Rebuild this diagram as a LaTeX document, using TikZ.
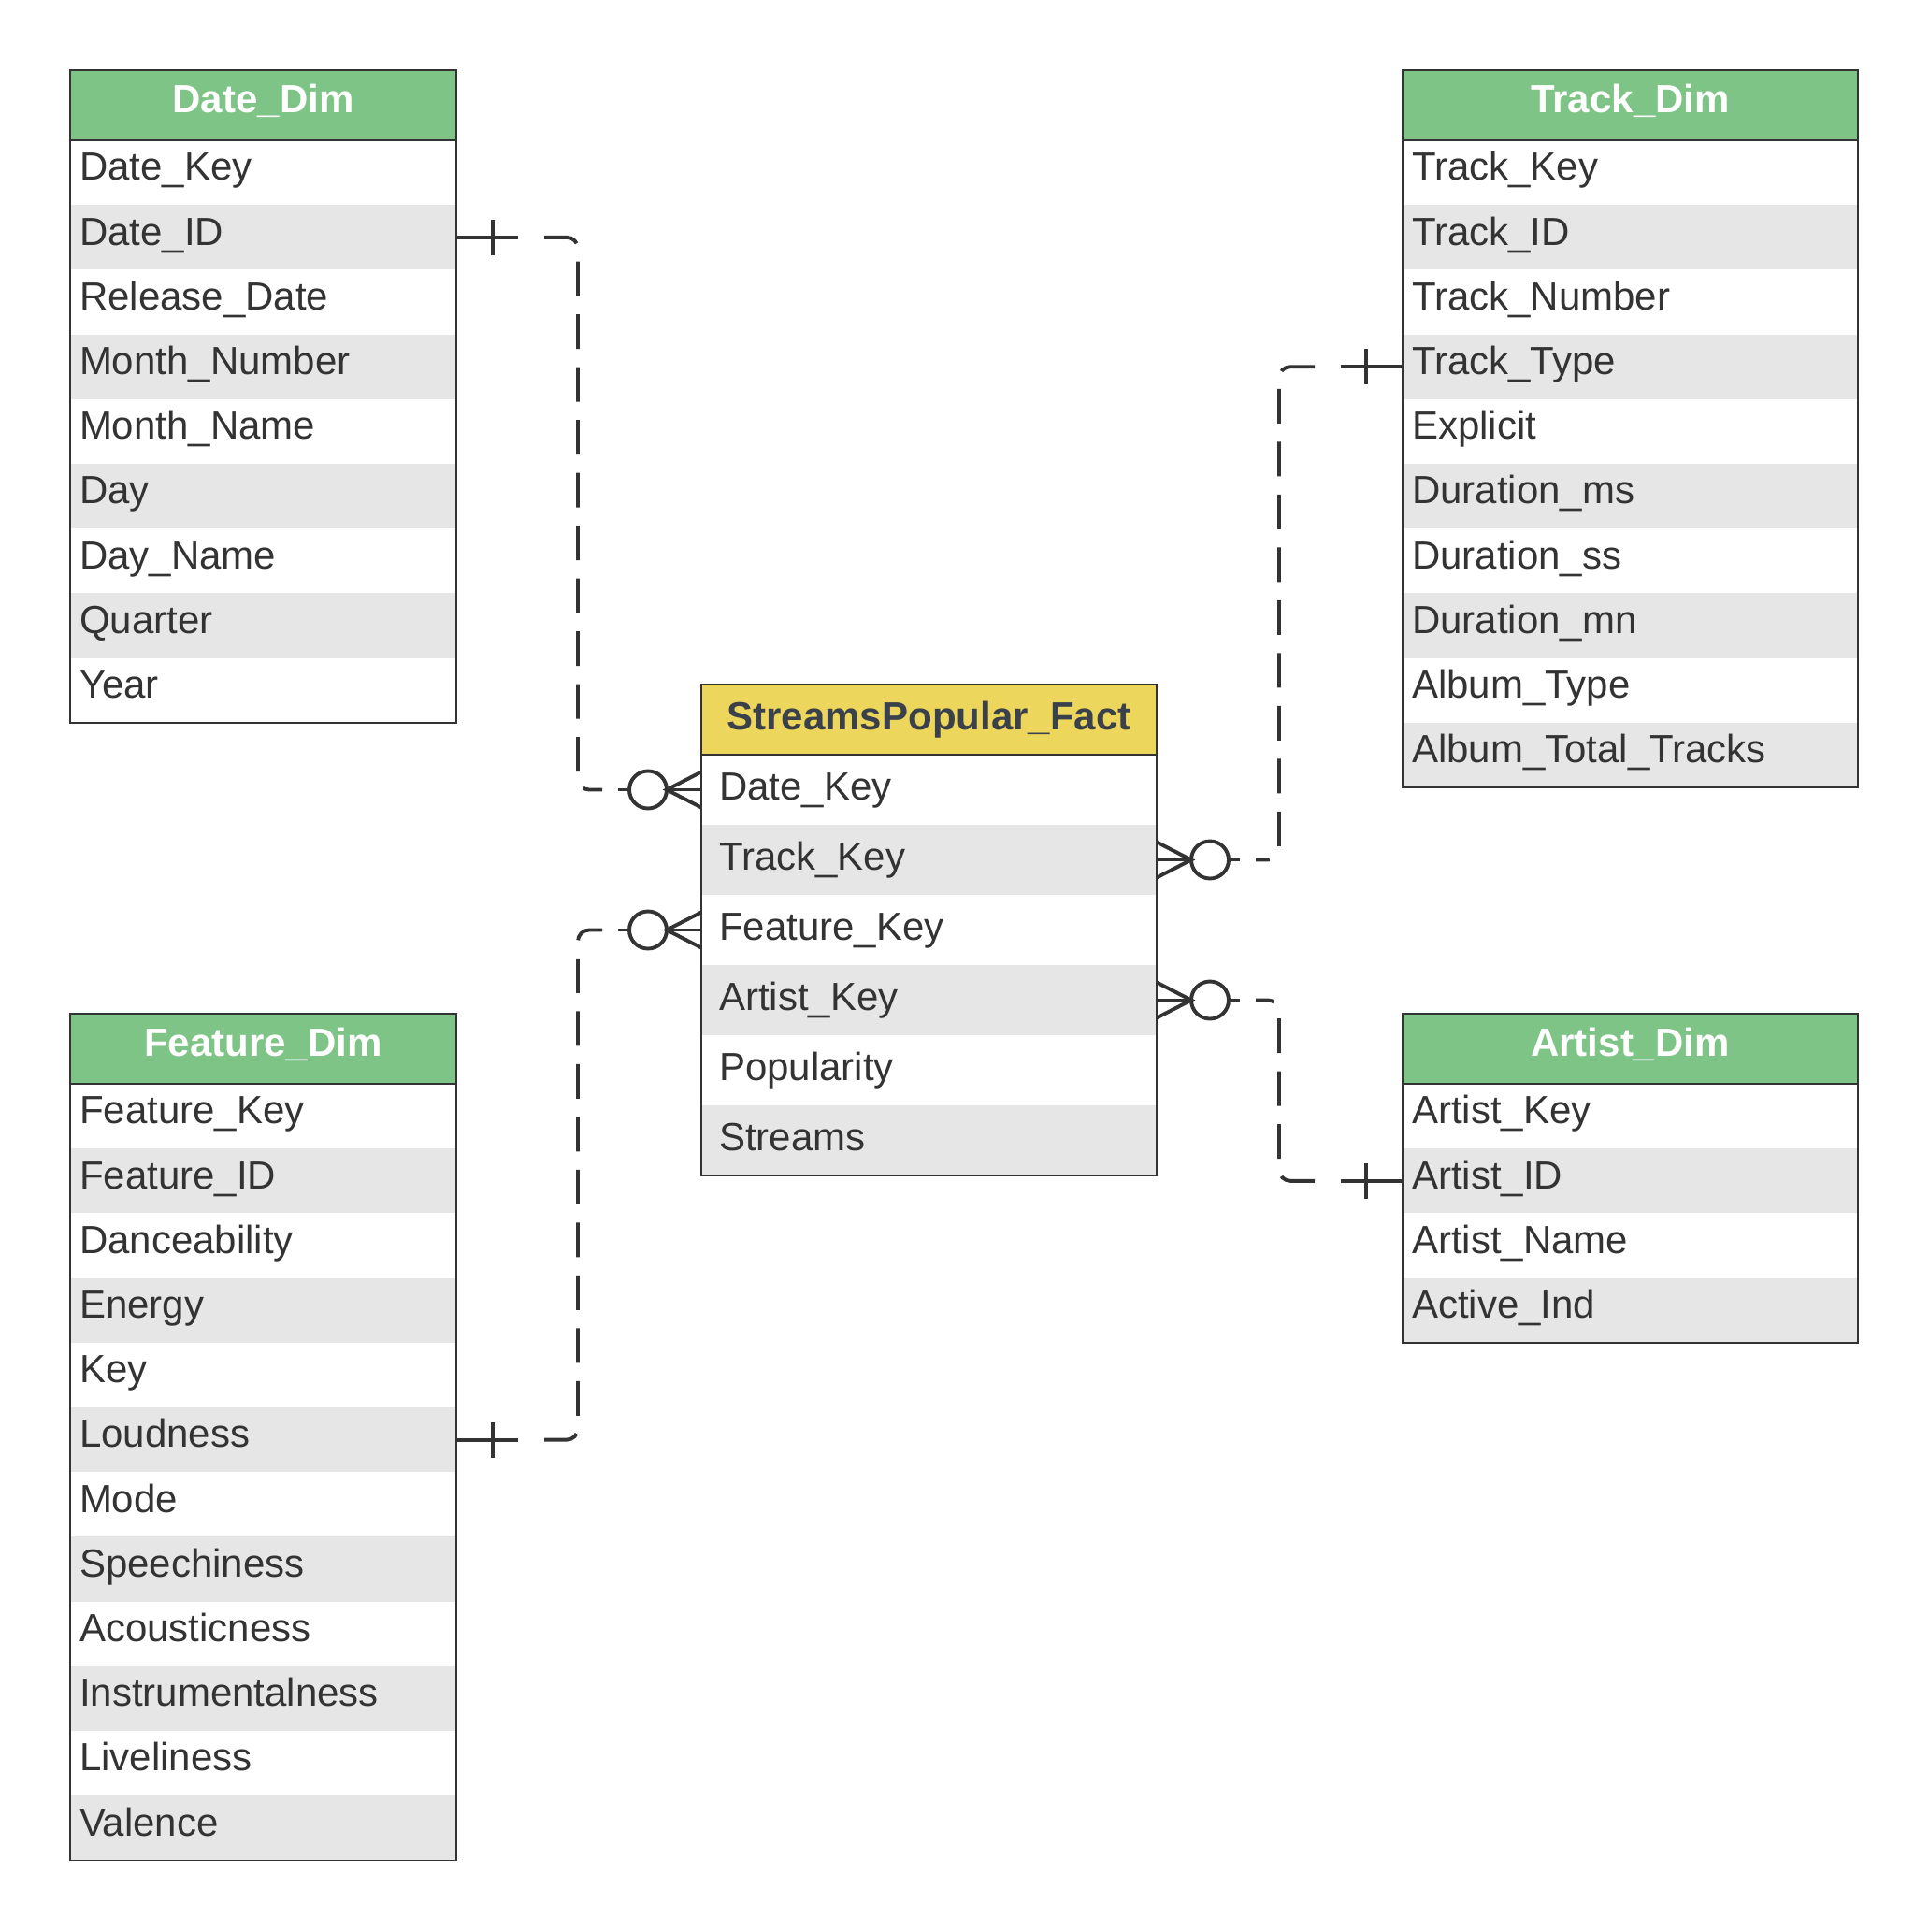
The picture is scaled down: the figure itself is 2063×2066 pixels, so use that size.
\documentclass[tikz,border=0pt]{standalone}
\usepackage{fontspec}
\setmainfont{Liberation Sans}
\usetikzlibrary{calc}

\definecolor{dimgreen}{HTML}{7EC486}
\definecolor{factyellow}{HTML}{EDD65C}
\definecolor{facttext}{HTML}{3A414A}
\definecolor{rowgray}{HTML}{E6E6E6}
\definecolor{fieldtext}{HTML}{333333}
\definecolor{framecol}{HTML}{333333}
\definecolor{linecol}{HTML}{333333}

\tikzset{
  tableframe/.style={draw=framecol, line width=1.7pt},
  headcell/.style={rectangle, inner sep=0pt, outer sep=0pt, minimum height=75,
    font=\bfseries\fontsize{42}{50}\selectfont, text height=30.3pt},
  dimhead/.style={headcell, fill=dimgreen, text=white, text depth=13.6pt},
  facthead/.style={headcell, fill=factyellow, text=facttext, text depth=8pt},
  fieldcell/.style={rectangle, inner ysep=0pt, outer sep=0pt, align=left,
    font=\fontsize{42}{50}\selectfont, text=fieldtext, text height=30.3pt},
  dimhead field/.style={text depth=13.6pt},
  facthead field/.style={text depth=9pt},
  relline/.style={draw=linecol, line width=3.9pt, dash pattern=on 37pt off 19.5pt, rounded corners=12pt},
  markline/.style={draw=linecol, line width=3.9pt},
}

% entity table: name, x, y, width, row height, text padding, header style, title, fields
\newcommand{\erentity}[9]{%
  \node[#7, minimum width=#4, anchor=north west] (#1-h) at (#2,#3) {#8};
  \pgfmathsetmacro\entw{#4-2*#6}
  \foreach \f [count=\i] in {#9} {
    \ifodd\i \def\rowfill{white}\else \def\rowfill{rowgray}\fi
    \node[fieldcell, #7 field, fill=\rowfill, minimum width=#4, minimum height=#5,
      text width=\entw pt, inner xsep=#6, anchor=north west]
      (#1-\i) at ($(#1-h.south west)+(0,{(\i-1)*#5})$) {\f};
    \xdef\lastrow{\i}
  }
  \draw[tableframe] (#1-h.north west) rectangle (#1-\lastrow.south east);
  \draw[tableframe] (#1-h.south west) -- (#1-h.south east);
}

% "exactly one" end: stub with a cross bar
\newcommand{\relone}[2]{%
  \draw[markline] (#1) -- ++({66*#2},0);
  \draw[markline] ($(#1)+({39*#2},-19)$) -- ++(0,38);
}
% "zero or many" end: crow's foot and circle
\newcommand{\relmany}[2]{%
  \draw[markline] ($(#1)+(0,-19)$) -- ($(#1)+({37*#2},0)$) -- ($(#1)+(0,19)$);
  \draw[markline] (#1) -- ++({37*#2},0);
  \draw[markline] ($(#1)+({57*#2},0)$) circle[radius=20];
  \draw[markline] ($(#1)+({77*#2},0)$) -- ++({12*#2},0);
}

\begin{document}
\begin{tikzpicture}[x=1pt, y=-1pt]
  \fill[white] (0,0) rectangle (2063,2066);
  \useasboundingbox (0,0) rectangle (2063,2066);

  \erentity{date}{75}{75}{413}{69.2}{10}{dimhead}{Date\_Dim}%
    {Date\_Key, Date\_ID, Release\_Date, Month\_Number, Month\_Name, Day, Day\_Name, Quarter, Year}

  \erentity{track}{1500}{75}{487}{69.2}{10}{dimhead}{Track\_Dim}%
    {Track\_Key, Track\_ID, Track\_Number, Track\_Type, Explicit, Duration\_ms, Duration\_ss, Duration\_mn, Album\_Type, Album\_Total\_Tracks}

  \erentity{feat}{75}{1084}{413}{69.2}{10}{dimhead}{Feature\_Dim}%
    {Feature\_Key, Feature\_ID, Danceability, Energy, Key, Loudness, Mode, Speechiness, Acousticness, Instrumentalness, Liveliness, Valence}

  \erentity{artist}{1500}{1084}{487}{69.2}{10}{dimhead}{Artist\_Dim}%
    {Artist\_Key, Artist\_ID, Artist\_Name, Active\_Ind}

  \erentity{fact}{750}{732}{487}{75}{19}{facthead}{StreamsPopular\_Fact}%
    {Date\_Key, Track\_Key, Feature\_Key, Artist\_Key, Popularity, Streams}

  % vertical runs of the relationship lines
  \coordinate (leftbus) at (618,0);
  \coordinate (rightbus) at (1368,0);

  % Date_Dim -- fact
  \relone{date-2.east}{1}
  \relmany{fact-1.west}{-1}
  \draw[relline] ($(date-2.east)+(94,0)$) -| (leftbus |- fact-1.west) -- ($(fact-1.west)+(-106,0)$);

  % Feature_Dim -- fact
  \relone{feat-6.east}{1}
  \relmany{fact-3.west}{-1}
  \draw[relline] ($(feat-6.east)+(94,0)$) -| (leftbus |- fact-3.west) -- ($(fact-3.west)+(-106,0)$);

  % Track_Dim -- fact
  \relone{track-4.west}{-1}
  \relmany{fact-2.east}{1}
  \draw[relline] ($(track-4.west)+(-94,0)$) -| (rightbus |- fact-2.east) -- ($(fact-2.east)+(106,0)$);

  % Artist_Dim -- fact
  \relone{artist-2.west}{-1}
  \relmany{fact-4.east}{1}
  \draw[relline] ($(artist-2.west)+(-94,0)$) -| (rightbus |- fact-4.east) -- ($(fact-4.east)+(106,0)$);
\end{tikzpicture}
\end{document}
